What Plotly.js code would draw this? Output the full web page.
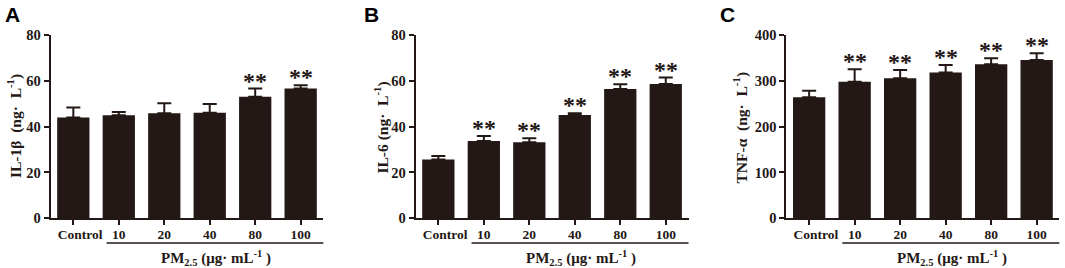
<!DOCTYPE html>
<html><head><meta charset="utf-8">
<script src="https://cdn.plot.ly/plotly-3.0.1.min.js"></script>
<style>html,body{margin:0;padding:0;background:#fff}#chart{width:1065px;height:268px}</style>
</head><body><div id="chart"></div>
<script>
const categories = ['Control', '10', '20', '40', '80', '100'];
const tickLabels = ['\u00a0\u00a0\u00a0\u00a0Control', '10', '20', '40', '80', '100'];

const il1bMean = [44, 45, 45.8, 46.1, 53, 56.6];
const il1bErr  = [4.4, 1.4, 4.4, 3.8, 3.6, 1.5];
const il1bSig  = ['', '', '', '', '**', '**'];

const il6Mean = [25.7, 33.7, 33.2, 45.1, 56.4, 58.6];
const il6Err  = [1.5, 2.2, 1.7, 0.7, 2.1, 2.8];
const il6Sig  = ['', '**', '**', '**', '**', '**'];

const tnfMean = [264, 298, 305.5, 318, 336, 345.5];
const tnfErr  = [14.5, 27, 18, 16.5, 13, 14.5];
const tnfSig  = ['', '**', '**', '**', '**', '**'];

const panelLetters = ['A', 'B', 'C'];
const yTitles = [
  'IL-1\u03b2\u00a0\u00a0(ng\u00b7\u00a0\u00a0L<sup>-1</sup>)',
  'IL-6\u00a0(ng\u00b7\u00a0\u00a0L<sup>-1</sup>)',
  'TNF-\u03b1\u00a0\u00a0(ng\u00b7\u00a0\u00a0L<sup>-1</sup>)'
];
const xTitle = 'PM<sub>2.5</sub> (\u03bcg\u00b7 mL<sup>-1</sup> )';
const yRanges = [[0, 80], [0, 80], [0, 400]];
const yTicks = [[0, 20, 40, 60, 80], [0, 20, 40, 60, 80], [0, 100, 200, 300, 400]];

const W = 1065, H = 268;
const ink = '#231815';
const serif = 'Liberation Serif, Times New Roman, serif';
const xDomPx = [[50.6, 323.4], [415.6, 688.5], [786.4, 1059.4]];
const yDom = [1 - 218.3 / H, 1 - 35 / H];
const letterPx = [[3, 14], [362, 14], [718, 14]];
const yTitlePx = [[14, 126], [381.5, 128], [741, 127.5]];

const series = [[il1bMean, il1bErr, il1bSig], [il6Mean, il6Err, il6Sig], [tnfMean, tnfErr, tnfSig]];
const data = [];
const layout = {
  width: W, height: H, margin: {l: 0, r: 0, t: 0, b: 0},
  paper_bgcolor: '#fff', plot_bgcolor: '#fff', showlegend: false,
  bargap: 0.29, annotations: [], shapes: []
};

series.forEach((s, i) => {
  const n = i === 0 ? '' : String(i + 1);
  const [mean, err, sig] = s;
  data.push({
    type: 'bar', x: categories, y: mean, xaxis: 'x' + n, yaxis: 'y' + n,
    marker: {color: ink, line: {width: 0}},
    error_y: {type: 'data', array: err, arrayminus: err.map(() => 0), symmetric: false,
              color: ink, thickness: 2, width: 7},
    hoverinfo: 'skip'
  });
  sig.forEach((t, k) => {
    if (!t) return;
    layout.annotations.push({xref: 'x' + n, yref: 'y' + n, x: k, y: mean[k] + err[k],
      xanchor: 'center', yanchor: 'bottom', yshift: -7, text: t, showarrow: false,
      font: {family: serif, size: 24, color: ink, weight: 'bold'}});
  });
  layout['xaxis' + n] = {
    domain: [xDomPx[i][0] / W, xDomPx[i][1] / W], anchor: 'y' + n,
    type: 'category', range: [-0.5, 5.5], tickvals: categories, ticktext: tickLabels,
    showline: true, linecolor: ink, linewidth: 2, ticks: 'outside', ticklen: 5, tickwidth: 2, tickcolor: ink,
    ticklabelstandoff: -3,
    showgrid: false, zeroline: false, fixedrange: true,
    tickfont: {family: serif, size: 13.5, color: ink, weight: 'bold'}
  };
  layout['yaxis' + n] = {
    domain: yDom, anchor: 'x' + n, range: yRanges[i], tickvals: yTicks[i],
    showline: true, linecolor: ink, linewidth: 2, ticks: 'outside', ticklen: 5, tickwidth: 2, tickcolor: ink,
    showgrid: false, zeroline: false, fixedrange: true,
    tickfont: {family: serif, size: 14.5, color: ink, weight: 'bold'}
  };
  layout.shapes.push({type: 'line', xref: 'x' + n, yref: 'paper', x0: 0.73, x1: 5.53,
    y0: 1 - 243 / H, y1: 1 - 243 / H, line: {color: ink, width: 1.6}});
  layout.annotations.push({xref: 'x' + n, yref: 'paper', x: 3.13, y: 1 - 258 / H, yanchor: 'middle',
    text: xTitle, showarrow: false, font: {family: serif, size: 15, color: ink, weight: 'bold'}});
  layout.annotations.push({xref: 'paper', yref: 'paper', x: yTitlePx[i][0] / W, y: 1 - yTitlePx[i][1] / H,
    xanchor: 'center', yanchor: 'middle', textangle: -90, text: yTitles[i], showarrow: false,
    font: {family: serif, size: 15.5, color: ink, weight: 'bold'}});
  layout.annotations.push({xref: 'paper', yref: 'paper', x: letterPx[i][0] / W, y: 1 - letterPx[i][1] / H,
    xanchor: 'left', yanchor: 'middle', text: panelLetters[i], showarrow: false,
    font: {family: 'Liberation Sans, Arial, sans-serif', size: 21, color: '#000', weight: 'bold'}});
});

Plotly.newPlot('chart', data, layout, {staticPlot: true, displayModeBar: false});
</script></body></html>
